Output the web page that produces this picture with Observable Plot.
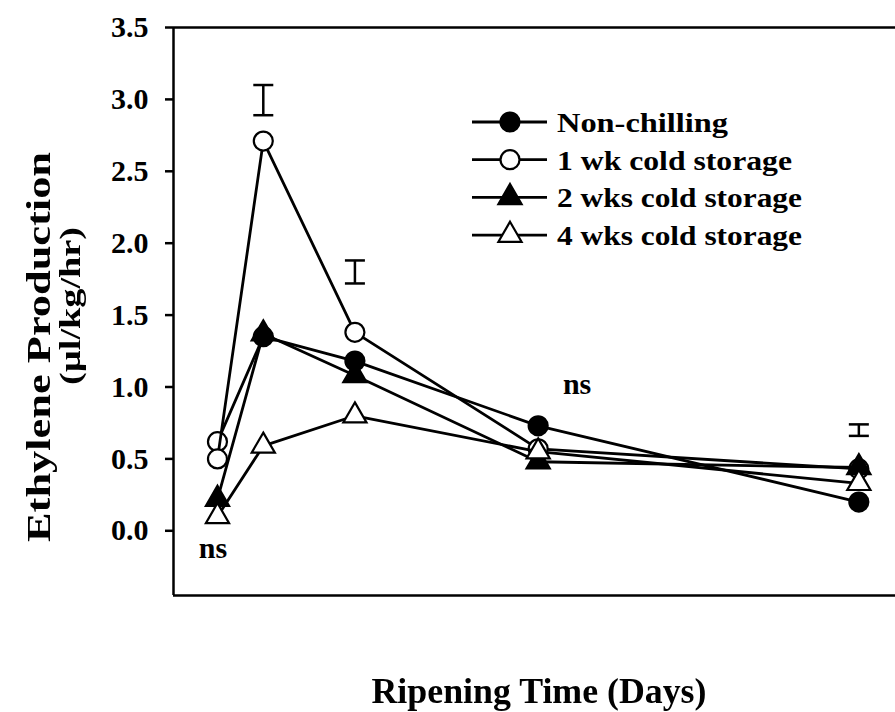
<!DOCTYPE html>
<html>
<head>
<meta charset="utf-8">
<script src="https://cdn.jsdelivr.net/npm/d3@7"></script>
<script src="https://cdn.jsdelivr.net/npm/@observablehq/plot@0.6"></script>
<style>
  html, body { margin: 0; padding: 0; background: #fff; overflow: hidden; }
  svg text { -webkit-font-smoothing: antialiased; }
</style>
</head>
<body>
<div id="chart"></div>
<script>
// Ripening days at which ethylene was measured
const days = [0, 1, 3, 7, 14];

// Treatments, in drawing order
const seriesNames = ["Non-chilling", "1 wk cold storage", "2 wks cold storage", "4 wks cold storage"];

// Ethylene production (µl/kg/hr) for each treatment
const nonChilling = [0.62, 1.35, 1.18, 0.73, 0.20];
const oneWeek     = [0.50, 2.71, 1.38, 0.57, 0.43];
const twoWeeks    = [0.22, 1.37, 1.08, 0.48, 0.44];
const fourWeeks   = [0.10, 0.59, 0.80, 0.55, 0.33];

// LSD bars
const lsdDays = [1, 3, 14];
const lsdLow  = [2.89, 1.72, 0.66];
const lsdHigh = [3.10, 1.88, 0.74];

// "ns" annotations (non-significant differences)
const nsDays   = [-0.1, 7.85];
const nsValues = [-0.12, 1.02];

// y-axis ticks
const yTicks = [0, 0.5, 1, 1.5, 2, 2.5, 3, 3.5];

const xDomain = [-0.96, 14.8];
const yDomain = [-0.45, 3.5];

const values = [nonChilling, oneWeek, twoWeeks, fourWeeks];
const marker = [
  {symbol: "circle", filled: true},
  {symbol: "circle", filled: false},
  {symbol: "triangle", filled: true},
  {symbol: "triangle", filled: false}
];
const markerR = {circle: 9.5, triangle: 8.6};

const rows = seriesNames.flatMap((s, i) =>
  days.map((d, j) => ({series: s, idx: i, day: d, value: values[i][j]})));

const lsd = lsdDays.map((d, i) => ({day: d, low: lsdLow[i], high: lsdHigh[i]}));
const ns = nsDays.map((d, i) => ({day: d, value: nsValues[i]}));

// short horizontal stroke used for the LSD bar caps
const capSymbol = {
  draw(context, size) {
    const w = Math.sqrt(size / Math.PI);
    context.moveTo(-w, 0);
    context.lineTo(w, 0);
  }
};

const font = "'Liberation Serif', 'Times New Roman', serif";

const seriesMarks = seriesNames.flatMap((s, i) => {
  const data = rows.filter(r => r.idx === i);
  const m = marker[i];
  return [
    Plot.line(data, {x: "day", y: "value", stroke: "black", strokeWidth: 2.8}),
    Plot.dot(data, {
      x: "day", y: "value",
      symbol: m.symbol,
      r: markerR[m.symbol],
      stroke: "black",
      strokeWidth: 2.2,
      // the day-0 non-chilling reading is drawn hollow
      fill: d => (m.filled && !(d.idx === 0 && d.day === 0)) ? "black" : "white"
    })
  ];
});

const chart = Plot.plot({
  width: 895,
  height: 712,
  marginTop: 27,
  marginBottom: 117,
  marginLeft: 173,
  marginRight: 0,
  x: {domain: xDomain, axis: null},
  y: {domain: yDomain, axis: null},
  style: {fontFamily: font, fontWeight: "bold", fontSize: "30px", background: "white", color: "black", overflow: "visible"},
  marks: [
    Plot.axisY({ticks: yTicks, tickFormat: d => d.toFixed(1), tickSize: 8, tickPadding: 17,
      strokeWidth: 2.5, fontSize: 30, label: null}),
    Plot.ruleY([yDomain[0], yDomain[1]], {stroke: "black", strokeWidth: 2.5}),
    Plot.ruleX([xDomain[0]], {stroke: "black", strokeWidth: 2.5}),
    ...seriesMarks,
    Plot.ruleX(lsd, {x: "day", y1: "low", y2: "high", stroke: "black", strokeWidth: 2.5}),
    Plot.dot(lsd, {x: "day", y: "low", symbol: capSymbol, r: 10, stroke: "black", strokeWidth: 2.5, fill: "none"}),
    Plot.dot(lsd, {x: "day", y: "high", symbol: capSymbol, r: 10, stroke: "black", strokeWidth: 2.5, fill: "none"}),
    Plot.text(ns, {x: "day", y: "value", text: () => "ns", fontSize: 30, fontWeight: "bold"})
  ]
});

const svg = d3.select(chart);

// axis titles (grouped with slight opacity so rotated glyphs render in greyscale)
const titles = svg.append("g")
  .attr("font-family", font)
  .attr("font-weight", "bold")
  .attr("fill", "#000")
  .attr("opacity", 0.999)
  .attr("text-anchor", "middle");

titles.append("text")
  .attr("transform", "translate(539,703)")
  .attr("font-size", 36)
  .attr("textLength", 335).attr("lengthAdjust", "spacingAndGlyphs")
  .text("Ripening Time (Days)");

titles.append("text")
  .attr("transform", "translate(50,347) rotate(-90)")
  .attr("font-size", 33)
  .attr("textLength", 390).attr("lengthAdjust", "spacingAndGlyphs")
  .text("Ethylene Production");

titles.append("text")
  .attr("transform", "translate(80,306) rotate(-90)")
  .attr("font-size", 29)
  .attr("textLength", 158).attr("lengthAdjust", "spacingAndGlyphs")
  .text("(µl/kg/hr)");

// legend inside the plot area
const legendWidths = [171, 235, 245, 245];
const legend = svg.append("g")
  .attr("font-family", font)
  .attr("font-weight", "bold")
  .attr("font-size", 28)
  .attr("text-anchor", "start");
const legendTop = 122, legendStep = 37.7;
seriesNames.forEach((s, i) => {
  const y = legendTop + i * legendStep;
  const m = marker[i];
  const r = markerR[m.symbol];
  legend.append("line")
    .attr("x1", 472).attr("x2", 547).attr("y1", y).attr("y2", y)
    .attr("stroke", "black").attr("stroke-width", 2.8);
  legend.append("path")
    .attr("transform", `translate(510,${y})`)
    .attr("d", d3.symbol(m.symbol === "circle" ? d3.symbolCircle : d3.symbolTriangle, Math.PI * r * r)())
    .attr("fill", m.filled ? "black" : "white")
    .attr("stroke", "black").attr("stroke-width", 2.2);
  legend.append("text")
    .attr("x", 557).attr("y", y).attr("dy", "0.35em")
    .attr("fill", "black")
    .attr("textLength", legendWidths[i]).attr("lengthAdjust", "spacingAndGlyphs")
    .text(s);
});

document.getElementById("chart").appendChild(chart);
</script>
</body>
</html>
